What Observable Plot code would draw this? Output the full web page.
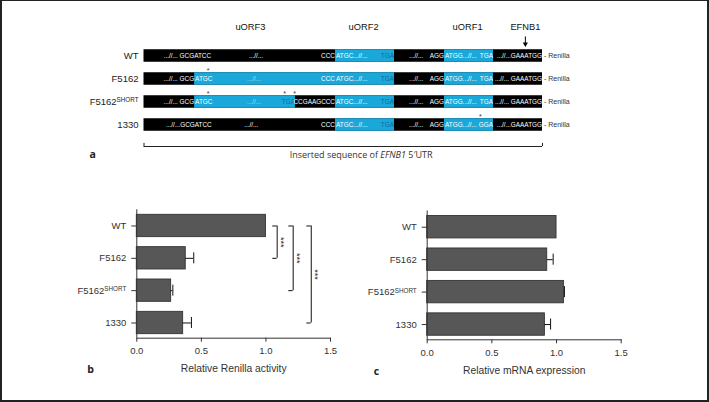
<!DOCTYPE html>
<html><head><meta charset="utf-8">
<script src="https://cdn.jsdelivr.net/npm/d3@7"></script>
<script src="https://cdn.jsdelivr.net/npm/@observablehq/plot@0.6"></script>
<style>
html,body{margin:0;padding:0;background:#fff;}
#fig{position:relative;width:709px;height:402px;box-sizing:border-box;border-style:solid;border-color:#222;border-width:1px 2px 2px 2px;overflow:hidden;background:#fff;}
#fig svg{position:absolute;left:-2px;top:-1px;}
</style></head><body><div id="fig"></div>
<script>
// ---------- data ----------
const constructs = ["WT", "F5162", "F5162SHORT", "1330"];

// panel a: positions in % of inserted 5'UTR length
const orfLabels = ["uORF3", "uORF2", "uORF1", "EFNB1"];
const orfLabelPos = [26.7, 55.1, 81.2, 95.7];
const cyanRow   = ["WT","WT","F5162","F5162","F5162SHORT","F5162SHORT","F5162SHORT","1330","1330"];
const cyanStart = [48.05, 75.4, 12.7, 75.4, 12.7, 48.05, 75.4, 48.05, 75.4];
const cyanEnd   = [62.86, 87.7, 62.86, 87.7, 38.0, 62.86, 87.7, 62.86, 87.7];

const seqRow = [
  "WT","WT","WT","WT","WT","WT","WT","WT","WT","WT",
  "F5162","F5162","F5162","F5162","F5162","F5162","F5162","F5162","F5162","F5162","F5162",
  "F5162SHORT","F5162SHORT","F5162SHORT","F5162SHORT","F5162SHORT","F5162SHORT","F5162SHORT","F5162SHORT","F5162SHORT","F5162SHORT","F5162SHORT","F5162SHORT",
  "1330","1330","1330","1330","1330","1330","1330","1330","1330","1330"];
const seqText = [
  "...//... GCGATCC","...//...","CCC","ATGC...//...","TGA","...//...","AGG","ATGG...//...","TGA","...//...GAAATGG",
  "...//... GCG","ATGC","...//...","CCC","ATGC...//...","TGA","...//...","AGG","ATGG...//...","TGA","...//... GAAATGG",
  "...//... GCG","ATGC","...//...","TGA","CCGAAGCCC","ATGC...//...","TGA","...//...","AGG","ATGG...//...","TGA","...//... GAAATGG",
  "...//...GCGATCC","...//...","CCC","ATGC...//...","TGA","...//...","AGG","ATGG...//...","GGA","...//...GAAATGG"];
const seqPos = [
  4.8, 26.2, 48.05, 48.05, 62.86, 66.4, 75.4, 75.4, 87.7, 100,
  12.7, 12.7, 25.7, 48.05, 48.05, 62.86, 66.4, 75.4, 75.4, 87.7, 100,
  12.7, 12.7, 25.7, 38.0, 48.05, 48.05, 62.86, 66.4, 75.4, 75.4, 87.7, 100,
  5.4, 25.0, 48.05, 48.05, 62.86, 66.4, 75.4, 75.4, 87.7, 100];
const seqSide = [
  "s","s","e","s","e","s","e","s","e","e",
  "e","s","s","e","s","e","s","e","s","e","e",
  "e","s","s","e","e","s","e","s","e","s","e","e",
  "s","s","e","s","e","s","e","s","e","e"];
const seqTone = [
  "w","w","w","w","d","w","w","w","w","w",
  "w","w","l","w","w","d","w","w","w","w","w",
  "w","w","l","d","w","w","d","w","w","w","w","w",
  "w","w","w","w","d","w","w","w","w","w"];
const starRow = ["F5162","F5162SHORT","F5162SHORT","F5162SHORT","1330"];
const starPos = [16.1, 16.1, 35.3, 37.8, 84.4];
const caption = "Inserted sequence of EFNB1 5\u2032UTR";
const captionPos = 54.5;

// panels b and c
const activity      = [1.0, 0.379, 0.266, 0.359];
const activityErr   = [0, 0.062, 0.013, 0.064];
const expression    = [1.0, 0.928, 1.057, 0.910];
const expressionErr = [0, 0.046, 0.004, 0.044];
const xTicks = [0, 0.5, 1.0, 1.5];
const sigTarget = ["F5162", "F5162SHORT", "1330"];
const sigLabel  = ["***", "***", "***"];
const sigX      = [1.087, 1.211, 1.351];

// ---------- helpers ----------
const fig = document.getElementById("fig");
const baseStyle = {fontFamily: "'Liberation Sans', Arial, sans-serif", fontSize: "9.5px", color: "#333", background: "transparent", maxWidth: "none", overflow: "visible"};
const rowIdx = d => constructs.indexOf(d);

function superscripts(svg) {
  d3.select(svg).selectAll("text").each(function () {
    if (this.childElementCount === 0 && this.textContent === "F5162SHORT") {
      const t = d3.select(this);
      t.text("F5162");
      t.append("tspan").attr("dy", "-0.42em").attr("font-size", "6.3px").text("SHORT");
    }
  });
}

// ---------- panel a ----------
const toneColor = {w: "#ffffff", d: "#0b6d9b", l: "#a3dcf2"};
const seqIdx = d3.range(seqText.length);
const cyanIdx = d3.range(cyanRow.length);
const starIdx = d3.range(starRow.length);

const pa = Plot.plot({
  width: 709, height: 170, margin: 0,
  x: {domain: [0, 100], range: [143.5, 542], axis: null},
  y: {domain: [0, 3], range: [55.5, 124.5], axis: null},
  color: {type: "identity"},
  style: baseStyle,
  marks: [
    Plot.text(orfLabels, {x: (d, i) => orfLabelPos[i], y: -1.24, text: d => d, fontSize: 9.3, fill: "#111"}),
    Plot.ruleX([orfLabelPos[3]], {x: d => d, y1: -0.83, y2: -0.55, stroke: "#000", strokeWidth: 1}),
    Plot.dot([orfLabelPos[3]], {x: d => d, y: -0.52, symbol: "triangle", rotate: 180, r: 1.9, fill: "#000", stroke: null}),
    Plot.rect(constructs, {x1: 0, x2: 100, y1: d => rowIdx(d) - 0.272, y2: d => rowIdx(d) + 0.272, fill: "#000"}),
    Plot.rect(cyanIdx, {x1: i => cyanStart[i], x2: i => cyanEnd[i], y1: i => rowIdx(cyanRow[i]) - 0.272, y2: i => rowIdx(cyanRow[i]) + 0.272, fill: "#1aa8da"}),
    Plot.text(seqIdx, {filter: i => seqSide[i] === "s", x: i => seqPos[i], y: i => rowIdx(seqRow[i]), text: i => seqText[i], fill: i => toneColor[seqTone[i]], textAnchor: "start", dx: 0.5, fontSize: 6.4}),
    Plot.text(seqIdx, {filter: i => seqSide[i] === "e", x: i => seqPos[i], y: i => rowIdx(seqRow[i]), text: i => seqText[i], fill: i => toneColor[seqTone[i]], textAnchor: "end", dx: -0.5, fontSize: 6.4}),
    Plot.text(starIdx, {x: i => starPos[i], y: i => rowIdx(starRow[i]), text: () => "*", dy: -8.5, fontSize: 7, fill: "#333"}),
    Plot.text(constructs, {x: 0, y: rowIdx, text: d => d, textAnchor: "end", dx: -5.5, fontSize: 9.5, fill: "#222"}),
    Plot.text(constructs, {x: 100, y: rowIdx, text: () => "- Renilla", textAnchor: "start", dx: 1.5, fontSize: 7, fill: "#333"}),
    Plot.ruleY([3.935], {x1: 0, x2: 100, stroke: "#222", strokeWidth: 1}),
    Plot.ruleX([0, 100], {y1: 3.8, y2: 3.935, stroke: "#222", strokeWidth: 1}),
    Plot.text([caption], {x: captionPos, y: 4.3, text: d => d, fontSize: 9, fill: "#333", fontFamily: "'Open Sans', sans-serif"}),
    Plot.text(["a"], {x: -12.9, y: 4.28, text: d => d, fontSize: 10.5, fontWeight: "bold", fill: "#222", fontFamily: "'Open Sans', sans-serif"})
  ]
});
superscripts(pa);
d3.select(pa).selectAll("text").each(function () {
  if (this.childElementCount === 0 && this.textContent === caption) {
    const t = d3.select(this);
    t.text("Inserted sequence of ");
    t.append("tspan").attr("font-style", "italic").text("EFNB1");
    t.append("tspan").text(" 5\u2032UTR");
  }
});
fig.appendChild(pa);

// ---------- panels b, c ----------
function barPanel({values, errs, left, right, top, bottom, title, letter, letterDx, sig}) {
  const idx = d3.range(constructs.length);
  const errIdx = idx.filter(i => errs[i] > 0);
  const marks = [
    Plot.rect(idx, {x1: 0, x2: i => values[i], y1: i => i - 0.345, y2: i => i + 0.345, fill: "#575757", stroke: "#333", strokeWidth: 0.9}),
    Plot.ruleY(errIdx, {x1: i => values[i], x2: i => values[i] + errs[i], y: i => i, stroke: "#111", strokeWidth: 1}),
    Plot.ruleX(errIdx, {x: i => values[i] + errs[i], y1: i => i - 0.17, y2: i => i + 0.17, stroke: "#111", strokeWidth: 1}),
    Plot.ruleX([0], {stroke: "#333", strokeWidth: 1}),
    Plot.frame({anchor: "bottom", stroke: "#333", strokeWidth: 1}),
    Plot.axisX({ticks: xTicks, tickFormat: d3.format(".1f"), tickSize: 4, tickPadding: 5.5, fontSize: 9.5, label: null, stroke: "#333"}),
    Plot.axisY({ticks: [0, 1, 2, 3], tickFormat: i => constructs[i], tickSize: 5, tickPadding: 5.5, fontSize: 9.5, label: null, stroke: "#333"}),
    Plot.text([title], {frameAnchor: "bottom", text: d => d, dy: 34, fontSize: 10.3, fill: "#333"}),
    Plot.text([letter], {frameAnchor: "bottom-left", text: d => d, dx: letterDx, dy: 35, fontSize: 10.5, fontWeight: "bold", fill: "#222", fontFamily: "'Open Sans', sans-serif"})
  ];
  if (sig) {
    const s = d3.range(sigTarget.length);
    marks.push(
      Plot.ruleX(s, {x: i => sigX[i], y1: 0, y2: i => rowIdx(sigTarget[i]), stroke: "#111", strokeWidth: 1}),
      Plot.ruleY(s, {x1: i => sigX[i] - 0.034, x2: i => sigX[i], y: 0, stroke: "#111", strokeWidth: 1}),
      Plot.ruleY(s, {x1: i => sigX[i] - 0.034, x2: i => sigX[i], y: i => rowIdx(sigTarget[i]), stroke: "#111", strokeWidth: 1}),
      Plot.text(s, {x: i => sigX[i], y: i => rowIdx(sigTarget[i]) / 2, text: i => sigLabel[i], rotate: 90, dx: 3.5, fontSize: 9, fill: "#222"})
    );
  }
  const p = Plot.plot({
    width: 709, height: 402,
    marginLeft: left, marginRight: 709 - right, marginTop: top, marginBottom: 402 - bottom,
    x: {domain: [0, 1.5]},
    y: {domain: [-0.5, 3.47], reverse: true},
    style: baseStyle,
    marks
  });
  superscripts(p);
  return p;
}

fig.appendChild(barPanel({values: activity, errs: activityErr, left: 136.3, right: 330, top: 209.3, bottom: 337.7,
  title: "Relative Renilla activity", letter: "b", letterDx: -49.5, sig: true}));
fig.appendChild(barPanel({values: expression, errs: expressionErr, left: 426.7, right: 620.7, top: 210.5, bottom: 339.3,
  title: "Relative mRNA expression", letter: "c", letterDx: -53.5, sig: false}));
</script></body></html>
